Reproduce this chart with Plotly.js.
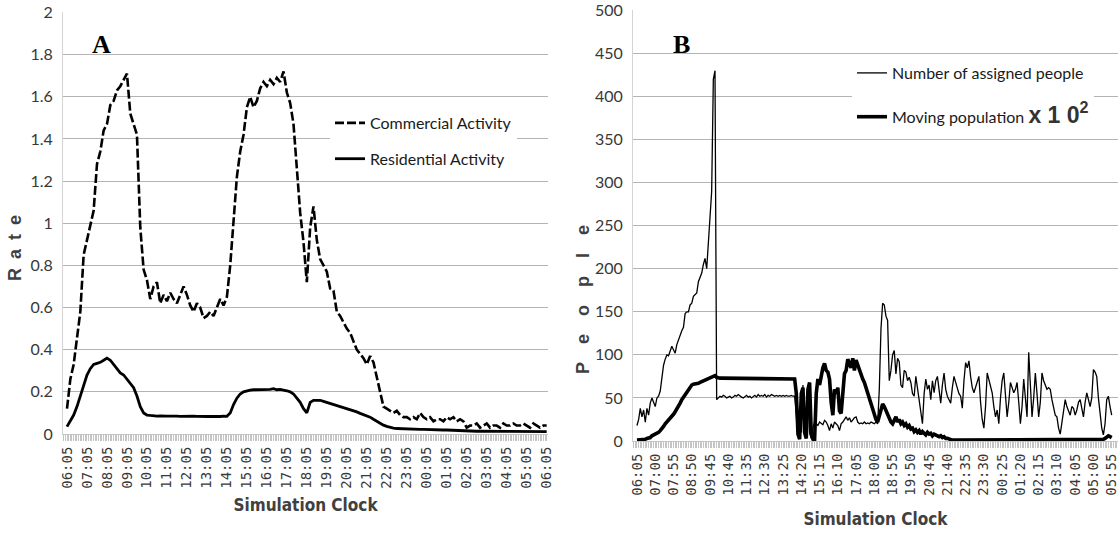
<!DOCTYPE html>
<html>
<head>
<meta charset="utf-8">
<script src="https://cdn.plot.ly/plotly-3.0.1.min.js"></script>
<style>
  html, body { margin: 0; padding: 0; background: #ffffff; }
  #chart { width: 1120px; height: 533px; }
</style>
</head>
<body>
<div id="chart"></div>
<script>
// ---------- Panel A : rate of activity (one value every 10 minutes from 06:05) ----------
const leftStepMinutes = 10;
const leftTickLabels = ['06:05','07:05','08:05','09:05','10:05','11:05','12:05','13:05','14:05',
  '15:05','16:05','17:05','18:05','19:05','20:05','21:05','22:05','23:05','00:05','01:05',
  '02:05','03:05','04:05','05:05','06:05'];

const commercialActivity = [
  0.12,0.26,0.33,0.45,0.58,0.85,0.92,1.00,1.06,1.28,
  1.34,1.44,1.47,1.56,1.58,1.63,1.65,1.68,1.71,1.52,
  1.47,1.42,0.98,0.78,0.73,0.64,0.70,0.72,0.62,0.66,
  0.63,0.67,0.64,0.62,0.66,0.70,0.66,0.61,0.58,0.62,
  0.60,0.55,0.56,0.58,0.56,0.60,0.64,0.61,0.65,0.80,
  1.02,1.22,1.34,1.42,1.55,1.60,1.55,1.58,1.64,1.67,
  1.65,1.68,1.66,1.69,1.67,1.72,1.62,1.57,1.47,1.25,
  1.05,0.91,0.72,0.98,1.08,0.92,0.83,0.80,0.77,0.69,
  0.68,0.58,0.56,0.53,0.50,0.48,0.44,0.40,0.38,0.36,
  0.33,0.37,0.34,0.27,0.19,0.13,0.12,0.11,0.10,0.11,
  0.09,0.08,0.08,0.07,0.08,0.07,0.10,0.08,0.07,0.08,
  0.06,0.07,0.07,0.06,0.08,0.07,0.08,0.06,0.07,0.06,
  0.03,0.04,0.04,0.05,0.03,0.04,0.05,0.03,0.04,0.04,
  0.03,0.05,0.04,0.04,0.05,0.04,0.04,0.05,0.04,0.03,
  0.05,0.04,0.03,0.04,0.04
];

const residentialActivity = [
  0.035,0.06,0.09,0.13,0.18,0.23,0.28,0.31,0.33,0.335,
  0.34,0.35,0.36,0.35,0.33,0.31,0.29,0.28,0.26,0.24,
  0.22,0.18,0.13,0.10,0.09,0.088,0.085,0.085,0.086,0.084,
  0.085,0.085,0.086,0.085,0.084,0.085,0.083,0.084,0.085,0.084,
  0.083,0.084,0.083,0.084,0.083,0.084,0.083,0.085,0.084,0.10,
  0.14,0.17,0.19,0.20,0.205,0.208,0.21,0.21,0.212,0.21,
  0.213,0.212,0.215,0.21,0.212,0.21,0.205,0.20,0.19,0.17,
  0.15,0.12,0.10,0.15,0.16,0.16,0.16,0.155,0.15,0.148,
  0.142,0.137,0.132,0.128,0.122,0.117,0.112,0.105,0.098,0.092,
  0.087,0.08,0.07,0.06,0.05,0.042,0.036,0.031,0.028,0.026,
  0.025,0.025,0.024,0.024,0.023,0.023,0.022,0.022,0.021,0.021,
  0.02,0.02,0.02,0.019,0.019,0.018,0.018,0.018,0.017,0.017,
  0.015,0.014,0.014,0.013,0.013,0.013,0.012,0.012,0.012,0.012,
  0.012,0.012,0.011,0.011,0.011,0.011,0.011,0.011,0.011,0.011,
  0.011,0.011,0.011,0.011,0.011
];

// ---------- Panel B : people (one value every 5 minutes from 06:05) ----------
const rightStepMinutes = 5;
const rightTickLabels = ['06:05','07:00','07:55','08:50','09:45','10:40','11:35','12:30','13:25',
  '14:20','15:15','16:10','17:05','18:00','18:55','19:50','20:45','21:40','22:35','23:30',
  '00:25','01:20','02:15','03:10','04:05','05:00','05:55'];

const assignedPeople = [
  18,25,38,28,36,22,38,30,44,50,
  45,40,50,52,58,75,88,95,100,99,
  104,110,106,102,112,118,122,128,132,148,
  150,150,158,160,168,170,172,185,190,195,
  205,212,200,235,255,290,420,430,48,50,
  52,51,53,52,50,51,52,50,51,53,
  52,54,52,51,50,52,53,51,52,50,
  52,53,51,54,52,53,52,54,51,53,
  52,54,53,52,53,52,53,52,53,52,
  53,52,52,53,52,52,
  30,5,40,10,65,20,5,55,10,3,
  15,22,20,18,22,20,19,24,22,18,
  12,20,15,22,20,18,12,20,22,25,
  28,24,27,22,25,27,28,22,20,21,
  20,22,20,21,20,22,21,20,22,20,
  60,130,160,158,145,140,70,82,100,105,
  78,96,92,65,62,82,80,70,74,68,
  55,52,75,60,45,30,20,55,72,60,
  65,48,70,56,70,75,55,44,65,79,
  60,52,48,44,62,75,68,60,55,52,
  38,70,91,85,93,75,62,56,62,70,
  75,45,25,15,40,79,70,62,56,40,
  28,36,20,50,70,79,50,28,45,68,
  62,56,60,68,45,20,40,72,50,28,
  103,60,28,50,79,55,28,45,79,70,
  64,60,62,60,48,40,30,28,15,8,
  20,35,48,40,36,30,40,38,30,36,
  45,48,38,28,45,56,48,40,50,83,
  80,75,50,28,15,7,20,48,52,40,
  30
];

const movingPopulation = [
  1,1,1,2,2,2,3,3,4,6,
  7,8,8,10,12,14,17,20,22,25,
  27,29,31,34,37,40,44,48,51,54,
  57,60,63,65,66,66,67,67,68,69,
  70,70,71,72,73,74,75,76,74,73,
  73,73,73,73,73,73,73,73,73,73,
  73,73,73,73,73,73,73,73,73,73,
  73,73,73,73,73,73,73,73,73,73,
  73,73,73,73,73,73,73,73,73,73,
  73,73,73,73,73,72,
  55,8,2,55,62,10,3,60,68,8,
  2,1,55,72,65,78,85,90,82,80,
  72,45,30,60,55,62,35,32,60,78,
  82,95,90,85,96,82,94,88,84,75,
  72,68,62,55,50,45,38,30,25,22,
  30,38,43,40,35,30,26,22,20,24,
  28,22,25,20,22,18,20,16,18,14,
  15,11,13,10,12,8,11,9,7,10,
  8,9,6,8,7,6,5,6,4,5,
  3,3,2,2,1,1,1,1,1,1,
  1,1,1,1,1,1,1,1,1,1,
  1,1,1,1,1,1,1,1,1,1,
  1,1,1,1,1,1,1,1,1,1,
  1,1,1,1,1,1,1,1,1,1,
  1,1,1,1,1,1,1,1,1,1,
  1,1,1,1,1,1,1,1,1,1,
  1,1,1,1,1,1,1,1,1,1,
  1,1,1,1,1,1,1,1,1,1,
  1,1,1,1,1,2,3,5,6,5,
  4
];

// ---------- build ----------
const minutesOf = (arr, step) => arr.map((_, i) => i * step);

const traces = [
  { x: minutesOf(commercialActivity, leftStepMinutes), y: commercialActivity,
    name: 'Commercial Activity', type: 'scatter', mode: 'lines', xaxis: 'x', yaxis: 'y',
    line: { color: '#000000', width: 2.6, dash: '9px,3px' }, legend: 'legend', legendgroup: 'c' },
  { x: minutesOf(residentialActivity, leftStepMinutes), y: residentialActivity,
    name: 'Residential Activity', type: 'scatter', mode: 'lines', xaxis: 'x', yaxis: 'y',
    line: { color: '#000000', width: 2.8 }, legend: 'legend', legendgroup: 'r' },
  { x: minutesOf(assignedPeople, rightStepMinutes), y: assignedPeople,
    name: 'Number of assigned people', type: 'scatter', mode: 'lines', xaxis: 'x2', yaxis: 'y2',
    line: { color: '#000000', width: 1.3 }, legend: 'legend2', legendgroup: 'a' },
  { x: minutesOf(movingPopulation, rightStepMinutes), y: movingPopulation,
    name: 'Moving population <b><span style="font-family:Liberation Sans;font-size:23px;fill:#333333">x 1 0<sup>2</sup></span></b>',
    type: 'scatter', mode: 'lines', xaxis: 'x2', yaxis: 'y2',
    line: { color: '#000000', width: 3.6 }, legend: 'legend2', legendgroup: 'm' }
];

const gridColor = '#b4b4b4';
const tickTextColor = '#383838';
const xTickFont = { family: 'DejaVu Sans Mono', size: 14, color: tickTextColor };
const yTickFont = { family: 'Lato', size: 16, color: tickTextColor };
const clockTitleFont = { family: 'DejaVu Sans Condensed, Roboto, sans-serif', size: 17, weight: 'bold', color: '#404040' };

function xAxisFor(labels, spacing, domain, anchor, range, standoff) {
  return {
    domain: domain, anchor: anchor, range: range,
    tickmode: 'array', tickvals: labels.map((_, i) => i * spacing), ticktext: labels,
    tickangle: -90, tickfont: xTickFont,
    ticks: 'outside', ticklen: 6, tickwidth: 1, tickcolor: '#c4c4c4',
    minor: { dtick: 5, tick0: 0, ticks: 'outside', ticklen: 6, tickwidth: 1, tickcolor: '#c4c4c4', showgrid: false },
    showgrid: false, zeroline: false, showline: true, linecolor: '#c4c4c4', linewidth: 1,
    title: { text: 'Simulation Clock', font: clockTitleFont, standoff: standoff }
  };
}

const layout = {
  width: 1120, height: 533,
  margin: { l: 0, r: 0, t: 0, b: 0 },
  paper_bgcolor: '#ffffff', plot_bgcolor: '#ffffff',
  showlegend: true,
  xaxis: xAxisFor(leftTickLabels, 60, [0.05625, 0.48929], 'y', [-12, 1444], 11),
  yaxis: {
    domain: [0.18574, 0.97749], anchor: 'x', range: [0, 2.002], dtick: 0.2, tick0: 0,
    showgrid: true, gridcolor: gridColor, gridwidth: 1, zeroline: false,
    showline: true, linecolor: '#d4d4d4', ticks: '', tickfont: yTickFont, ticklabelstandoff: 6
  },
  xaxis2: xAxisFor(rightTickLabels, 55, [0.56518, 0.99821], 'y2', [-12, 1449], 18),
  yaxis2: {
    domain: [0.17261, 0.98124], anchor: 'x2', range: [0, 500.5], dtick: 50, tick0: 0,
    showgrid: true, gridcolor: gridColor, gridwidth: 1, zeroline: false,
    showline: true, linecolor: '#d4d4d4', ticks: '', tickfont: yTickFont, ticklabelstandoff: 6
  },
  legend: {
    x: 330 / 1120, y: 1 - 106 / 533, xanchor: 'left', yanchor: 'top',
    bgcolor: '#ffffff', borderwidth: 0, traceorder: 'grouped', tracegroupgap: 12,
    font: { family: 'Lato', size: 16, color: '#1a1a1a' }, itemwidth: 30
  },
  legend2: {
    x: 852 / 1120, y: 1 - 56 / 533, xanchor: 'left', yanchor: 'top',
    bgcolor: '#ffffff', borderwidth: 0, traceorder: 'grouped', tracegroupgap: 20,
    font: { family: 'Lato', size: 16, color: '#1a1a1a' }, itemwidth: 30
  },
  annotations: [
    { text: '<b>A</b>', xref: 'paper', yref: 'paper', x: 101 / 1120, y: 1 - 45 / 533,
      xanchor: 'center', yanchor: 'middle', showarrow: false,
      font: { family: 'Liberation Serif', size: 26, color: '#000000' } },
    { text: '<b>B</b>', xref: 'paper', yref: 'paper', x: 681 / 1120, y: 1 - 45 / 533,
      xanchor: 'center', yanchor: 'middle', showarrow: false,
      font: { family: 'Liberation Serif', size: 26, color: '#000000' } },
    { text: '<b>R\u2002a\u2002t\u2002e</b>', xref: 'paper', yref: 'paper', x: 15 / 1120, y: 1 - 248 / 533,
      xanchor: 'center', yanchor: 'middle', textangle: -90, showarrow: false,
      font: { family: 'Liberation Sans', size: 18, color: '#404040' } },
    { text: '<b>P\u2003e\u2003o\u2003p\u2003l\u2003e</b>', xref: 'paper', yref: 'paper', x: 583 / 1120, y: 1 - 300 / 533,
      xanchor: 'center', yanchor: 'middle', textangle: -90, showarrow: false,
      font: { family: 'Liberation Sans', size: 18, color: '#404040' } }
  ]
};

Plotly.newPlot('chart', traces, layout, { staticPlot: true, displayModeBar: false });
</script>
</body>
</html>
